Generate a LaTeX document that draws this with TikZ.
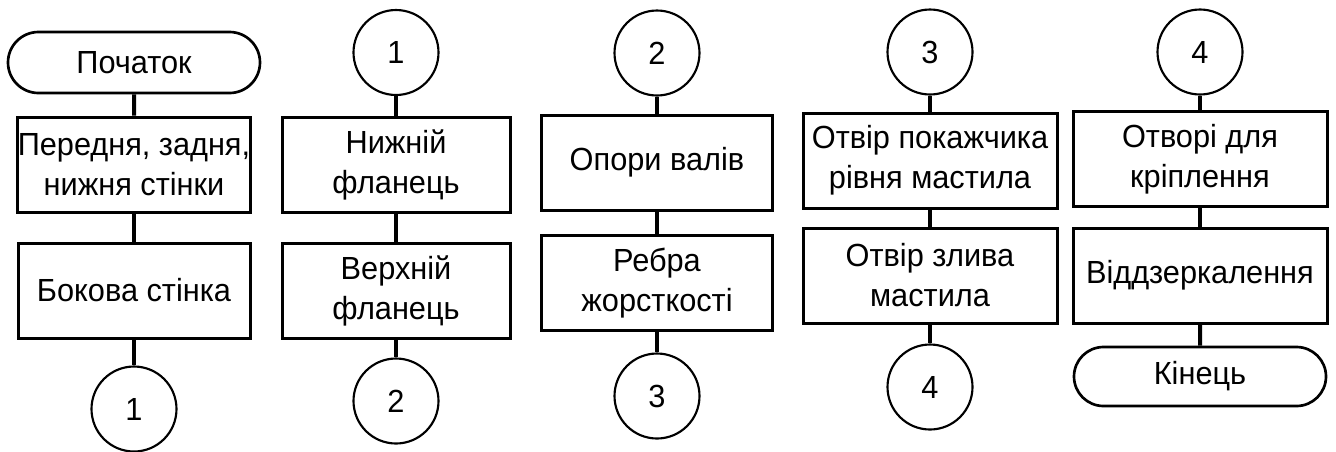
\documentclass[tikz,border=0pt]{standalone}
\usepackage{fontspec}
\setmainfont{Liberation Sans}[FakeStretch=0.96]
\usetikzlibrary{shapes.misc}
\begin{document}
\begin{tikzpicture}[x=0.75pt,y=-0.75pt,
  every node/.style={font=\fontsize{24pt}{30pt}\selectfont, align=center, inner sep=0pt},
  stepbox/.style={draw, line width=2.25pt, minimum width=#1*0.75pt, minimum height=71.25pt},
  term/.style={draw, rounded rectangle, line width=2pt, minimum width=252*0.75pt, minimum height=#1*0.75pt},
  conn/.style={draw, circle, line width=1.6pt, minimum size=85*0.75pt},
  link/.style={line width=3pt}]
\useasboundingbox (0,0) rectangle (1336,451);

% column 1
\node[term=61] (start) at (134,62.5) {Початок};
\node[stepbox=232] (walls) at (134,164.5) {Передня, задня,\\нижня стінки};
\node[stepbox=232] (side) at (134,290.5) {Бокова стінка};
\node[conn] (c1a) at (134,409) {1};
\draw[link] (start) -- (walls);
\draw[link] (walls) -- (side);
\draw[link] (side) -- (c1a);

% column 2
\node[conn] (c1b) at (396,52.5) {1};
\node[stepbox=228] (lowfl) at (396,164.5) {Нижній\\фланець};
\node[stepbox=228] (upfl) at (396,290.5) {Верхній\\фланець};
\node[conn] (c2a) at (396,401) {2};
\draw[link] (c1b) -- (lowfl);
\draw[link] (lowfl) -- (upfl);
\draw[link] (upfl) -- (c2a);

% column 3
\node[conn] (c2b) at (657,53) {2};
\node[stepbox=231] (supp) at (657,162.5) {Опори валів};
\node[stepbox=231] (ribs) at (657,283) {Ребра\\жорсткості};
\node[conn] (c3a) at (657,396) {3};
\draw[link] (c2b) -- (supp);
\draw[link] (supp) -- (ribs);
\draw[link] (ribs) -- (c3a);

% column 4
\node[conn] (c3b) at (930,52) {3};
\node[stepbox=254] (gauge) at (930,160.5) {Отвір покажчика\\рівня мастила};
\node[stepbox=254] (drain) at (930,275.5) {Отвір злива\\мастила};
\node[conn] (c4a) at (930,387) {4};
\draw[link] (c3b) -- (gauge);
\draw[link] (gauge) -- (drain);
\draw[link] (drain) -- (c4a);

% column 5
\node[conn] (c4b) at (1200,52) {4};
\node[stepbox=254] (holes) at (1200,159) {Отворі для\\кріплення};
\node[stepbox=254] (mirror) at (1200,275.5) {Віддзеркалення};
\node[term=59] (finish) at (1200,376.5) {Кінець};
\draw[link] (c4b) -- (holes);
\draw[link] (holes) -- (mirror);
\draw[link] (mirror) -- (finish);
\end{tikzpicture}
\end{document}
